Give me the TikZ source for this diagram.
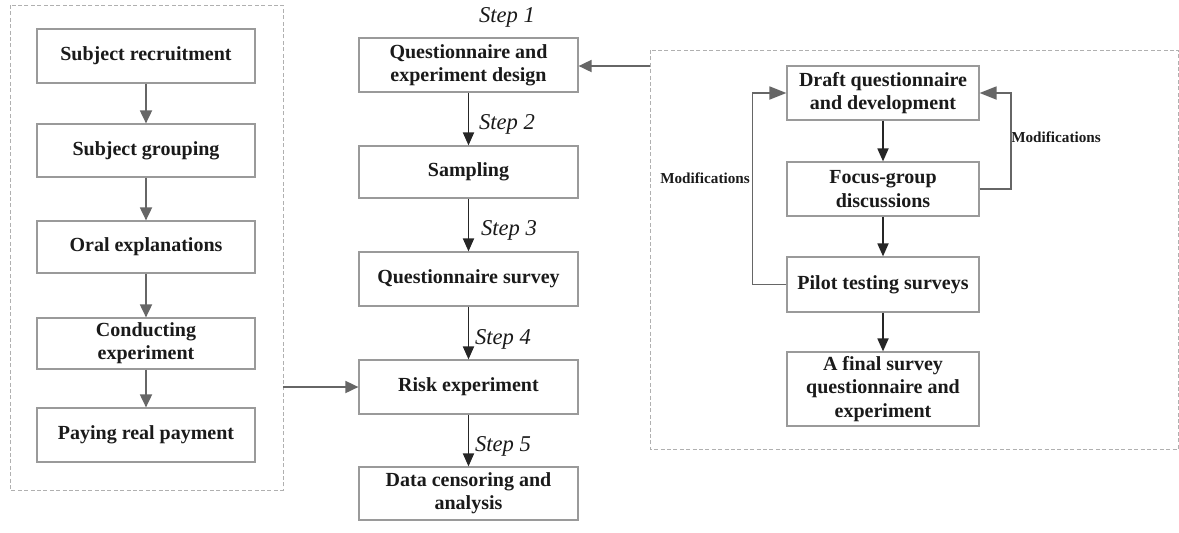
\documentclass[tikz,border=0pt]{standalone}
\usepackage{fontspec}
\setmainfont{Liberation Serif}
\usetikzlibrary{arrows.meta}
\definecolor{boxline}{HTML}{9A9A9A}
\definecolor{frameline}{HTML}{B0B0B0}
\definecolor{txt}{HTML}{1A1A1A}
\definecolor{grayarrow}{HTML}{666666}
\definecolor{darkarrow}{HTML}{262626}
\tikzset{
  box/.style={draw=boxline, line width=0.6pt, fill=white, align=center, text=txt,
    font=\bfseries\fontsize{10}{11.6}\selectfont, inner sep=1pt},
  frame/.style={draw=frameline, dash pattern=on 2pt off 1.2pt, line width=0.5pt},
  grayarr/.style={draw=grayarrow, line width=0.9pt, -{Triangle[length=6.5pt,width=6pt]}},
  fbarr/.style={draw=grayarrow, line width=0.9pt, -{Triangle[length=8.5pt,width=6.5pt]}},
  darkarr/.style={draw=darkarrow, line width=0.9pt, -{Triangle[length=6.5pt,width=5.5pt]}},
  steplabel/.style={font=\itshape\fontsize{11.3}{13}\selectfont, text=txt},
  modlabel/.style={font=\bfseries\fontsize{7.6}{9}\selectfont, text=txt, inner sep=0pt}
}
\begin{document}
\begin{tikzpicture}[x=0.5pt,y=-0.5pt]
\useasboundingbox (0,0) rectangle (1179,532);
% frames
\draw[frame] (10,5) rectangle (283,490);
\draw[frame] (650,50) rectangle (1178.6,449);
\coordinate (lfout) at (283,387);
\coordinate (rfout) at (650,66);
% left column
\node[box, minimum width=218*0.5pt, minimum height=54*0.5pt] (SR) at (146,56) {Subject recruitment};
\node[box, minimum width=218*0.5pt, minimum height=53*0.5pt] (SG) at (146,150.5) {Subject grouping};
\node[box, minimum width=218*0.5pt, minimum height=52*0.5pt] (OE) at (146,247) {Oral explanations};
\node[box, minimum width=218*0.5pt, minimum height=51*0.5pt] (CE) at (146,343.5) {Conducting\\experiment};
\node[box, minimum width=218*0.5pt, minimum height=54*0.5pt] (PR) at (146,435) {Paying real payment};
% middle column
\node[box, minimum width=219*0.5pt, minimum height=54*0.5pt] (QD) at (468.5,65) {Questionnaire and\\experiment design};
\node[box, minimum width=219*0.5pt, minimum height=52*0.5pt] (SA) at (468.5,172) {Sampling};
\node[box, minimum width=219*0.5pt, minimum height=54*0.5pt] (QS) at (468.5,279) {Questionnaire survey};
\node[box, minimum width=219*0.5pt, minimum height=54*0.5pt] (RE) at (468.5,387) {Risk experiment};
\node[box, minimum width=219*0.5pt, minimum height=53*0.5pt] (DC) at (468.5,493.5) {Data censoring and\\analysis};
% right column
\node[box, minimum width=192*0.5pt, minimum height=54*0.5pt] (DR) at (883,93) {Draft questionnaire\\and development};
\node[box, minimum width=192*0.5pt, minimum height=54*0.5pt] (FG) at (883,189) {Focus-group\\discussions};
\node[box, minimum width=192*0.5pt, minimum height=55*0.5pt] (PT) at (883,284.5) {Pilot testing surveys};
\node[box, minimum width=192*0.5pt, minimum height=74*0.5pt] (FI) at (883,389) {A final survey\\questionnaire and\\experiment};
% step labels
\node[steplabel] (s1) at (507,17) {Step 1};
\node[steplabel] (s2) at (507,124) {Step 2};
\node[steplabel] (s3) at (509,230) {Step 3};
\node[steplabel] (s4) at (503,339) {Step 4};
\node[steplabel] (s5) at (503,446) {Step 5};
% modification labels
\node[modlabel] (m1) at (705,178) {Modifications};
\node[modlabel] (m2) at (1056,137) {Modifications};
% left arrows
\draw[grayarr] (SR) -- (SG);
\draw[grayarr] (SG) -- (OE);
\draw[grayarr] (OE) -- (CE);
\draw[grayarr] (CE) -- (PR);
\draw[grayarr] (lfout) -- (RE.west);
% middle arrows
\draw[darkarr] (QD) -- (SA);
\draw[darkarr] (SA) -- (QS);
\draw[darkarr] (QS) -- (RE);
\draw[darkarr] (RE) -- (DC);
\draw[grayarr] (rfout) -- (rfout -| QD.east);
% right arrows
\draw[darkarr] (DR) -- (FG);
\draw[darkarr] (FG) -- (PT);
\draw[darkarr] (PT) -- (FI);
\draw[fbarr] (PT.west) -- ++(-34,0) |- (DR.west);
\draw[fbarr] (FG.east) -- ++(31,0) |- (DR.east);
\end{tikzpicture}
\end{document}
